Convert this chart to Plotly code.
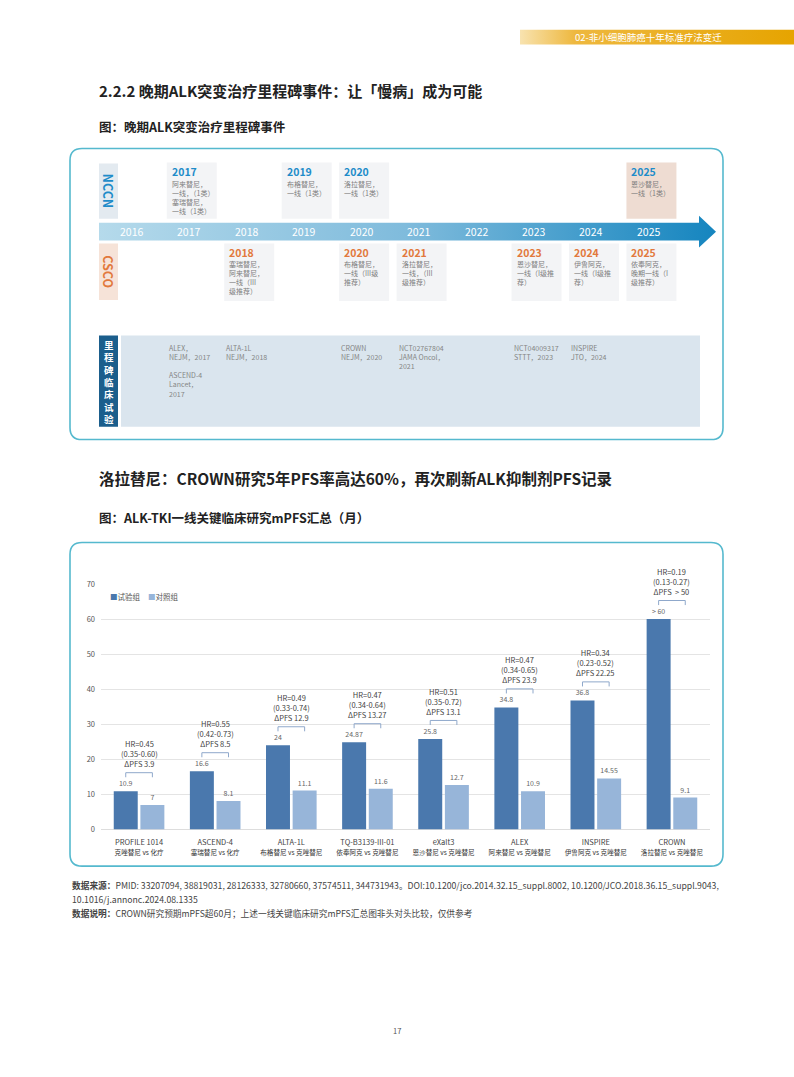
import plotly.graph_objects as go

W, H = 794, 1077
FONT = "Noto Sans CJK SC"

# ---------------- data ----------------
header_text = "02-非小细胞肺癌十年标准疗法变迁"
title_1 = "2.2.2 晚期ALK突变治疗里程碑事件：让「慢病」成为可能"
subtitle_1 = "图：晚期ALK突变治疗里程碑事件"
title_2 = "洛拉替尼：CROWN研究5年PFS率高达60%，再次刷新ALK抑制剂PFS记录"
subtitle_2 = "图：ALK-TKI一线关键临床研究mPFS汇总（月）"
footnotes = [
    "<b>数据来源：</b>PMID: 33207094, 38819031, 28126333, 32780660, 37574511, 344731943。DOI:10.1200/jco.2014.32.15_suppl.8002, 10.1200/JCO.2018.36.15_suppl.9043,",
    "10.1016/j.annonc.2024.08.1335",
    "<b>数据说明：</b>CROWN研究预期mPFS超60月；上述一线关键临床研究mPFS汇总图非头对头比较，仅供参考",
]
page_number = "17"

axis_years = [2016, 2017, 2018, 2019, 2020, 2021, 2022, 2023, 2024, 2025]

nccn_years = [2017, 2019, 2020, 2025]
nccn_notes = [
    ["阿来替尼，", "一线，（1类）", "塞瑞替尼，", "一线（1类）"],
    ["布格替尼，", "一线（1类）"],
    ["洛拉替尼，", "一线（1类）"],
    ["恩沙替尼，", "一线（1类）"],
]
csco_years = [2018, 2020, 2021, 2023, 2024, 2025]
csco_notes = [
    ["塞瑞替尼，", "阿来替尼，", "一线（III", "级推荐）"],
    ["布格替尼，", "一线（III级", "推荐）"],
    ["洛拉替尼，", "一线，（III", "级推荐）"],
    ["恩沙替尼，", "一线（I级推", "荐）"],
    ["伊鲁阿克，", "一线（I级推", "荐）"],
    ["依奉阿克，", "晚期一线（I", "级推荐）"],
]
trial_years = [2017, 2018, 2020, 2021, 2023, 2024]
trial_notes = [
    ["ALEX，", "NEJM，2017", "", "ASCEND-4", "Lancet，", "2017"],
    ["ALTA-1L", "NEJM，2018"],
    ["CROWN", "NEJM，2020"],
    ["NCT02767804", "JAMA Oncol，", "2021"],
    ["NCT04009317", "STTT，2023"],
    ["INSPIRE", "JTO，2024"],
]

studies = ["PROFILE 1014", "ASCEND-4", "ALTA-1L", "TQ-B3139-III-01", "eXalt3", "ALEX", "INSPIRE", "CROWN"]
comparisons = ["克唑替尼 vs 化疗", "塞瑞替尼 vs 化疗", "布格替尼 vs 克唑替尼", "依奉阿克 vs 克唑替尼",
               "恩沙替尼 vs 克唑替尼", "阿来替尼 vs 克唑替尼", "伊鲁阿克 vs 克唑替尼", "洛拉替尼 vs 克唑替尼"]
exp_pfs = [10.9, 16.6, 24, 24.87, 25.8, 34.8, 36.8, 60]
ctl_pfs = [7, 8.1, 11.1, 11.6, 12.7, 10.9, 14.55, 9.1]
exp_labels = ["10.9", "16.6", "24", "24.87", "25.8", "34.8", "36.8", "> 60"]
hr_values = ["0.45", "0.55", "0.49", "0.47", "0.51", "0.47", "0.34", "0.19"]
hr_ci = ["0.35-0.60", "0.42-0.73", "0.33-0.74", "0.34-0.64", "0.35-0.72", "0.34-0.65", "0.23-0.52", "0.13-0.27"]
delta_pfs = ["3.9", "8.5", "12.9", "13.27", "13.1", "23.9", "22.25", " > 50"]
y_ticks = [0, 10, 20, 30, 40, 50, 60, 70]

# ---------------- styles / layout constants ----------------
EXP = "#4A78AD"
CTL = "#97B5D9"
BRACKET = "#8FA8CB"
BOX = "#55B9CE"
NCCN_C = "#1E8CC9"
CSCO_C = "#E2793D"
TXT_G = "#7E7E7E"

T_PX0, T_PXY = 131.3, 57.46          # timeline axis: pixel of 2016, pixels per year
year_lo = 2016 - T_PX0 / T_PXY
year_hi = 2016 + (W - T_PX0) / T_PXY


def dyr(p):
    return p / T_PXY


def rounded(x0, y0, x1, y1, r):
    return (f"M{x0+r},{y0} L{x1-r},{y0} Q{x1},{y0} {x1},{y0+r} L{x1},{y1-r} Q{x1},{y1} {x1-r},{y1} "
            f"L{x0+r},{y1} Q{x0},{y1} {x0},{y1-r} L{x0},{y0+r} Q{x0},{y0} {x0+r},{y0} Z")


fig = go.Figure()

# ---------------- bar chart ----------------
fig.add_trace(go.Bar(
    x=studies, y=exp_pfs, name="试验组", marker=dict(color=EXP, line=dict(width=0)),
    text=exp_labels, textposition="outside", constraintext="none", cliponaxis=False,
    textfont=dict(family=FONT, size=7, color="#666"), hoverinfo="skip", showlegend=False))
fig.add_trace(go.Bar(
    x=studies, y=ctl_pfs, name="对照组", marker=dict(color=CTL, line=dict(width=0)),
    text=[f"{v:g}" for v in ctl_pfs], textposition="outside", constraintext="none", cliponaxis=False,
    textfont=dict(family=FONT, size=7, color="#666"), hoverinfo="skip", showlegend=False))

# decorations in pixel space (x3/y3)
fig.add_trace(go.Scatter(
    x=[99, 699, 699, 716, 699, 699, 99, 99], y=[219, 219, 212, 228, 244, 237, 237, 219],
    xaxis="x3", yaxis="y3", mode="lines", line=dict(width=0), fill="toself",
    fillgradient=dict(type="horizontal", colorscale=[[0, "#B5DAEB"], [0.5, "#7FBBDC"], [1, "#1585BF"]]),
    hoverinfo="skip", showlegend=False))
fig.add_trace(go.Scatter(
    x=[520, 794, 794, 520, 520], y=[24, 24, 39, 39, 24],
    xaxis="x3", yaxis="y3", mode="lines", line=dict(width=0), fill="toself",
    fillgradient=dict(type="horizontal", colorscale=[[0, "#F8E3B0"], [0.2, "#EEB83F"], [1, "#E6A400"]]),
    hoverinfo="skip", showlegend=False))
# anchor trace for the timeline axis
fig.add_trace(go.Scatter(x=[2016], y=[0], xaxis="x2", yaxis="y3", mode="markers",
                         marker=dict(opacity=0), hoverinfo="skip", showlegend=False))

shapes = []
ann = []


def txt(x, y, text, size, color, xref="x3", yref="y3", xanchor="left", yanchor="middle", **kw):
    ann.append(dict(x=x, y=y, xref=xref, yref=yref, text=text, showarrow=False,
                    xanchor=xanchor, yanchor=yanchor,
                    font=dict(family=FONT, size=size, color=color), **kw))


# boxes
for (x0, y0, x1, y1) in [(70, 144, 723, 438), (70, 542, 723, 869)]:
    shapes.append(dict(type="path", xref="x3", yref="y3", path=rounded(x0, y0, x1, y1, 12),
                       line=dict(color=BOX, width=1.6), fillcolor="rgba(0,0,0,0)", layer="below"))

# header / titles
txt(573, 31.5, header_text, 9.5, "white")
txt(97, 85, f"<b>{title_1}</b>", 15, "#222")
txt(97, 122, f"<b>{subtitle_1}</b>", 12.5, "#222")
txt(97, 477, f"<b>{title_2}</b>", 15.5, "#222")
txt(97, 517, f"<b>{subtitle_2}</b>", 12.5, "#222")
for i, line in enumerate(footnotes):
    txt(70, 889 + i * 14, line, 8.7, "#444")
txt(397, 1035, page_number, 7.5, "#555", xanchor="center")

# timeline row labels
shapes.append(dict(type="rect", xref="x3", yref="y3", x0=99, x1=118, y0=159, y1=215,
                   fillcolor="#E3EAF0", line=dict(width=0), layer="below"))
shapes.append(dict(type="rect", xref="x3", yref="y3", x0=99, x1=118, y0=240, y1=297,
                   fillcolor="#F6E3D8", line=dict(width=0), layer="below"))
txt(108.5, 187, "<b>NCCN</b>", 12.5, NCCN_C, xanchor="center", textangle=90)
txt(108.5, 268.5, "<b>CSCO</b>", 12.5, CSCO_C, xanchor="center", textangle=90)

# year labels along the arrow
for yr in axis_years:
    txt(yr, 228, str(yr), 10.5, "white", xref="x2", xanchor="center")

# NCCN cards
for yr, notes in zip(nccn_years, nccn_notes):
    x0, x1 = yr + dyr(-22), yr + dyr(28)
    shapes.append(dict(type="rect", xref="x2", yref="y3", x0=x0, x1=x1, y0=158, y1=215,
                       fillcolor="#EEDCD2" if yr == 2025 else "#F3F4F6", line=dict(width=0), layer="below"))
    txt(x0 + dyr(3), 167, f"<b>{yr}</b>", 10.5, NCCN_C, xref="x2")
    txt(x0 + dyr(3), 172.5, "<br>".join(notes), 7, TXT_G, xref="x2", yanchor="top", align="left")

# CSCO cards
for yr, notes in zip(csco_years, csco_notes):
    x0, x1 = yr + dyr(-22), yr + dyr(28)
    shapes.append(dict(type="rect", xref="x2", yref="y3", x0=x0, x1=x1, y0=240, y1=298,
                       fillcolor="#F3F4F6", line=dict(width=0), layer="below"))
    txt(x0 + dyr(3), 249, f"<b>{yr}</b>", 10.5, CSCO_C, xref="x2")
    txt(x0 + dyr(3), 253.5, "<br>".join(notes), 7, TXT_G, xref="x2", yanchor="top", align="left")

# milestone trials row
shapes.append(dict(type="rect", xref="x3", yref="y3", x0=99, x1=118, y0=333, y1=425,
                   fillcolor="#1B5E8C", line=dict(width=0), layer="below"))
shapes.append(dict(type="rect", xref="x3", yref="y3", x0=121, x1=700, y0=333, y1=425,
                   fillcolor="#DAE5EE", line=dict(width=0), layer="below"))
txt(108.5, 380, "<b>" + "<br>".join("里程碑临床试验") + "</b>", 9.5, "white", xanchor="center")
for yr, notes in zip(trial_years, trial_notes):
    txt(yr + dyr(-22), 338.5, "<br>".join(notes), 7, "#858585", xref="x2", yanchor="top", align="left")

# legend of bar chart
txt(108, 597, f"<span style='color:{EXP}'>■</span>试验组", 7.5, "#555")
txt(146, 597, f"<span style='color:{CTL}'>■</span>对照组", 7.5, "#555")

# HR brackets and annotations
for i, v in enumerate(exp_pfs):
    yb = v + 5.3
    xa, xb = i - 0.175, i + 0.175
    for (p0, p1) in [((xa, yb), (xb, yb)), ((xa, yb), (xa, yb - 1.3)), ((xb, yb), (xb, yb - 1.3))]:
        shapes.append(dict(type="line", xref="x", yref="y", x0=p0[0], y0=p0[1], x1=p1[0], y1=p1[1],
                           line=dict(color=BRACKET, width=1)))
    ann.append(dict(x=i, y=yb + 0.4, xref="x", yref="y", showarrow=False, xanchor="center",
                    yanchor="bottom", text=f"HR={hr_values[i]}<br>({hr_ci[i]})<br>ΔPFS {delta_pfs[i]}",
                    font=dict(family=FONT, size=7.5, color="#444")))

ticktext = [f"{s}<br><span style='font-size:6.6px;color:#333'>{c}</span>" for s, c in zip(studies, comparisons)]

fig.update_layout(
    width=W, height=H, autosize=False,
    margin=dict(l=0, r=0, t=0, b=0, pad=0),
    paper_bgcolor="white", plot_bgcolor="rgba(0,0,0,0)",
    font=dict(family=FONT, size=7.5, color="#444"),
    barmode="group", bargap=0.3, bargroupgap=0.1,
    showlegend=False,
    xaxis=dict(domain=[101 / W, 710 / W], anchor="y", tickvals=studies, ticktext=ticktext,
               tickfont=dict(family=FONT, size=7.5, color="#444"), showgrid=False, showline=False,
               ticks="", ticklabelstandoff=7, fixedrange=True),
    yaxis=dict(domain=[1 - 832 / H, 1 - 584 / H], anchor="x", range=[0, 70], tickvals=y_ticks,
               tickfont=dict(family=FONT, size=7.5, color="#555"), showgrid=True, gridcolor="#E4E4E4",
               gridwidth=0.8, zeroline=True, zerolinecolor="#DDDDDD", zerolinewidth=1,
               showline=False, ticks="", ticklabelstandoff=5, fixedrange=True),
    xaxis2=dict(domain=[0, 1], anchor="y3", range=[year_lo, year_hi], visible=False, fixedrange=True),
    xaxis3=dict(domain=[0, 1], anchor="y3", range=[0, W], visible=False, fixedrange=True),
    yaxis3=dict(domain=[0, 1], anchor="x3", range=[H, 0], visible=False, fixedrange=True),
    shapes=shapes,
    annotations=ann,
)

fig.write_html("out.html", config={"displayModeBar": False},
               post_script="document.body.style.margin='0';document.body.style.overflow='hidden';")
